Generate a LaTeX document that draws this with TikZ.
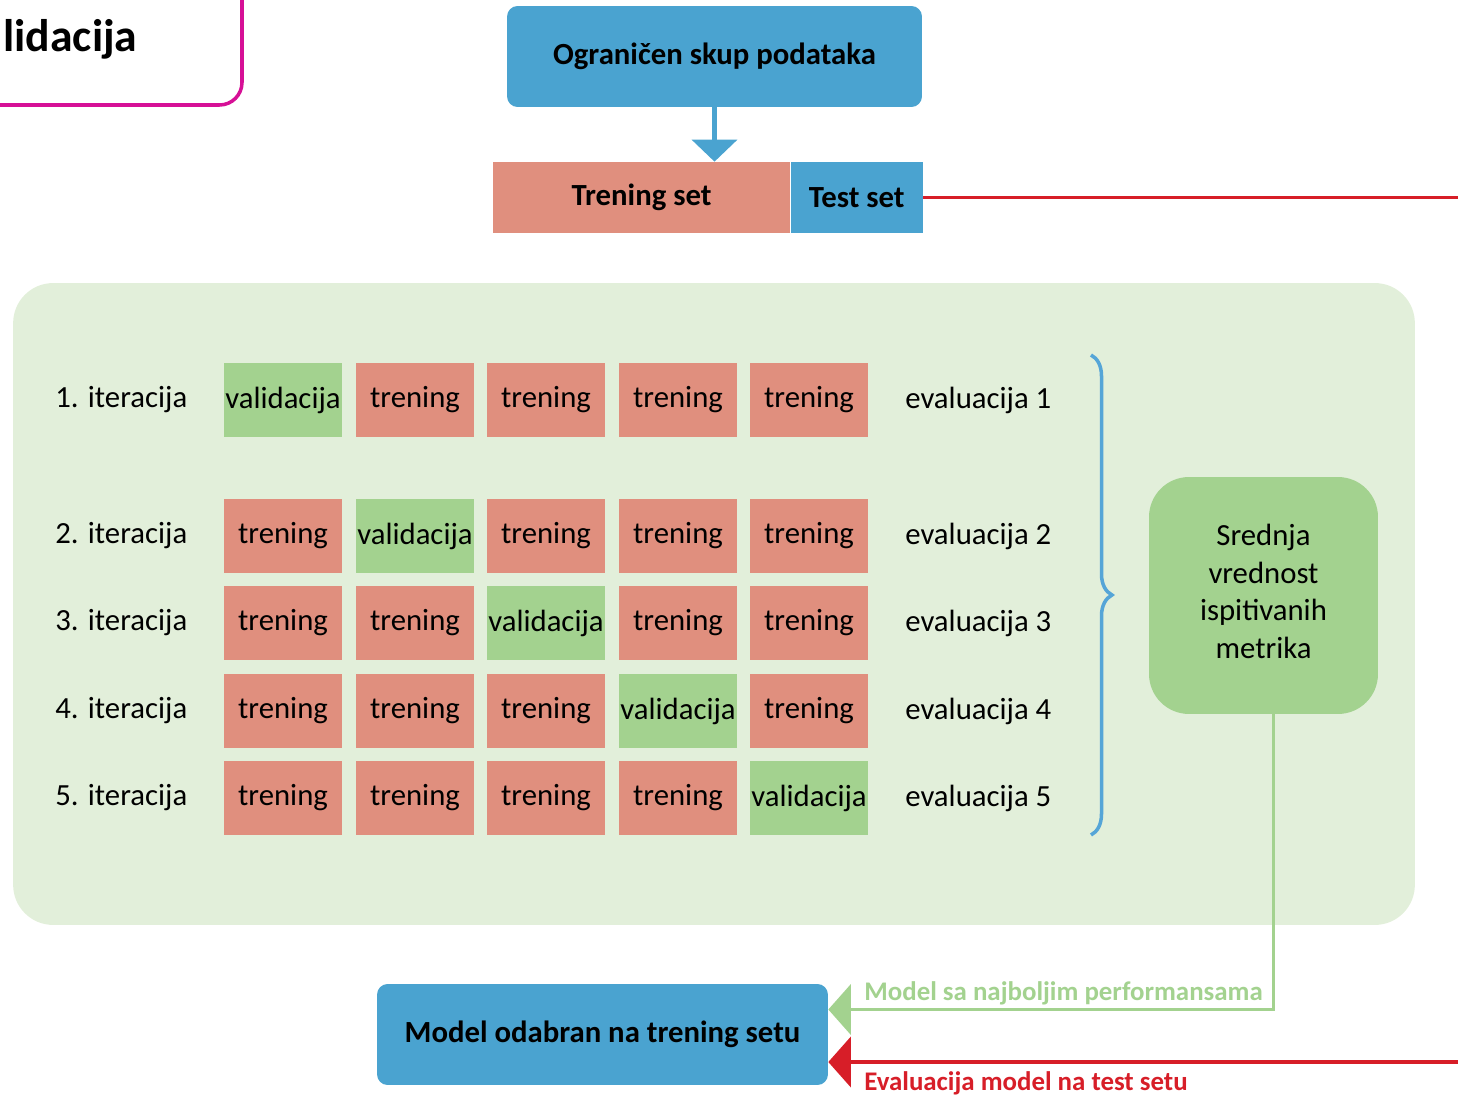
\documentclass[tikz,border=0pt]{standalone}
\usepackage{fontspec}
\setmainfont{Carlito}
\usetikzlibrary{
  arrows.meta,
  positioning,
  decorations.pathreplacing
}
\definecolor{BoxBlue}{RGB}{74,163,208}
\definecolor{Salmon}{RGB}{224,143,126}
\definecolor{CellGreen}{RGB}{163,210,143}
\definecolor{PanelGreen}{RGB}{226,239,218}
\definecolor{Magenta}{RGB}{214,16,150}
\definecolor{EvalRed}{RGB}{215,30,40}
\definecolor{BraceBlue}{RGB}{85,165,215}

\begin{document}
\begin{tikzpicture}[
        x=0.02cm, y=-0.02cm,
        every node/.style={font=\fontsize{17.5}{21}\selectfont},
        box/.style={rectangle, fill=BoxBlue, rounded corners=6pt, minimum height=2.02cm, inner sep=0pt, font=\bfseries\fontsize{17.5}{21}\selectfont},
        part/.style={rectangle, inner sep=0pt, minimum height=1.42cm, font=\bfseries\fontsize{17.5}{21}\selectfont},
        cell/.style={rectangle, inner sep=0pt, minimum width=2.36cm, minimum height=1.48cm, fill=Salmon},
        panel/.style={rectangle, fill=PanelGreen, rounded corners=0.8cm, minimum width=28.04cm, minimum height=12.84cm, inner sep=0pt},
        lbl/.style={inner sep=0pt, font=\bfseries\fontsize{15.3}{18}\selectfont},
        arrow/.style={line width=2.1pt, -{Triangle[width=1cm, length=0.45cm]}}
    ]
    \clip (0,0) rectangle (1458,1098);

    % Title box, cut at the page edge
    \draw[Magenta, line width=2pt, rounded corners=0.45cm] (-30,-30) rectangle (242,105);
    \node[anchor=base west, inner sep=0pt, font=\bfseries\fontsize{26}{30}\selectfont] (title) at (3,52) {lidacija};

    % Data set and split
    \node[box, minimum width=8.3cm] (data) at (714.5,56.5) {Ograničen skup podataka};
    \node[part, fill=Salmon, minimum width=5.94cm] (train) at (641.5,197.5) {Trening set};
    \node[part, fill=BoxBlue, minimum width=2.64cm, right=0pt of train] (test) {Test set};
    \draw[line width=2.3pt, BoxBlue, -{Triangle[width=0.9cm, length=0.44cm]}] (data) -- (data.south |- train.north);

    % Cross-validation panel
    \node[panel] (panel) at (714,604) {};
    \foreach \r/\yy in {1/400, 2/536, 3/623, 4/711, 5/798} {
        \node[anchor=west, inner sep=0pt] (it-\r) at (55,\yy) {\r. iteracija};
        \foreach \c/\xx in {1/283, 2/415, 3/546, 4/678, 5/809} {
            \ifnum\c=\r
                \node[cell, fill=CellGreen] (c-\r-\c) at (\xx,\yy) {validacija};
            \else
                \node[cell] (c-\r-\c) at (\xx,\yy) {trening};
            \fi
        }
        \node[anchor=west, inner sep=0pt] (ev-\r) at (905,\yy) {evaluacija \r};
    }
    \draw[BraceBlue, line width=2pt, decorate, decoration={brace, amplitude=0.42cm}] (1091,355) -- (1091,835);

    \node[rectangle, fill=CellGreen, rounded corners=0.8cm, minimum width=4.58cm, minimum height=4.74cm, align=center, font=\fontsize{17.5}{21.5}\selectfont] (mean) at (1263.5,595.5) {\\[-14pt]Srednja\\ vrednost\\ ispitivanih\\ metrika};

    % Selected model
    \node[box, minimum width=9.02cm] (model) at (602.5,1034.5) {Model odabran na trening setu};
    \coordinate (testout) at (1458,197.5);
    \coordinate (evalin) at (1458,1062);

    % Arrows
    \draw[line width=2.1pt, EvalRed] (test.east) -- (test.east -| testout);
    \draw[arrow, CellGreen] ([xshift=0.2cm]mean.south) |- ([yshift=0.5cm]model.east);
    \draw[arrow, EvalRed] (evalin) -- (evalin -| model.east);

    % Labels
    \node[lbl, text=CellGreen, anchor=base west] (bestlbl) at (864,1000) {Model sa najboljim performansama};
    \node[lbl, text=EvalRed, anchor=base west] (evallbl) at (864,1090) {Evaluacija model na test setu};

\end{tikzpicture}
\end{document}
